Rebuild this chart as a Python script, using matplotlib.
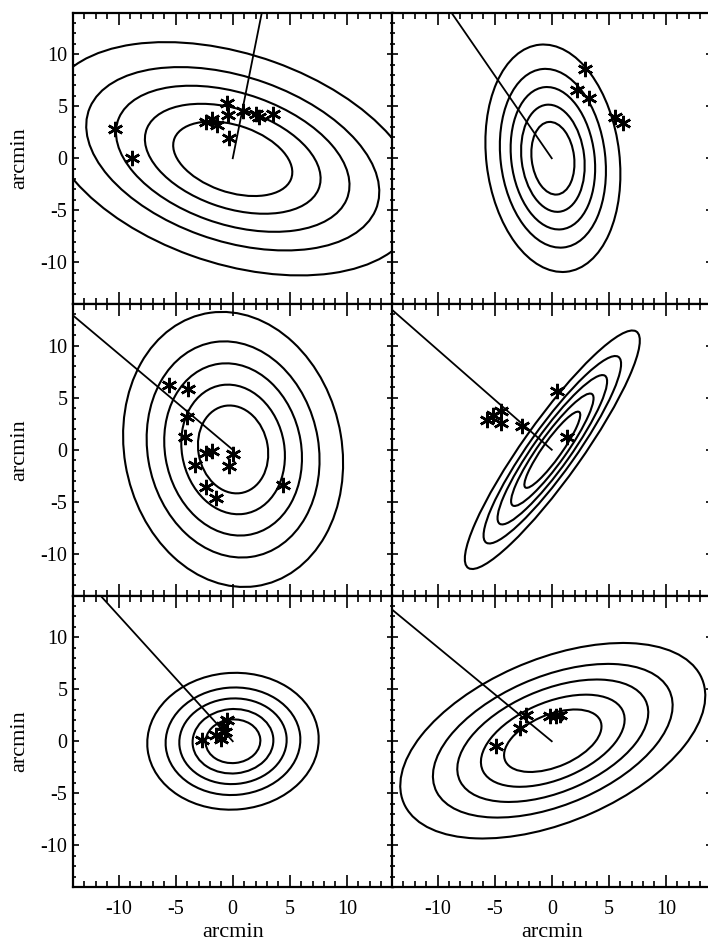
import matplotlib
matplotlib.use('Agg')
import matplotlib.pyplot as plt
from matplotlib.patches import Ellipse
from matplotlib.ticker import MultipleLocator
import numpy as np

plt.rcParams['font.family'] = ['Liberation Serif', 'DejaVu Serif']
plt.rcParams['axes.unicode_minus'] = False

# ---- data ----
levels = [1.0, 1.475, 1.96, 2.46, 3.13]          # contour scale factors

ell_cx = [0.0, 0.1, 0.03, 0.05, 0.02, 0.09]
ell_cy = [-0.05, 0.0, 0.03, 0.0, 0.0, 0.05]
ell_hx = [5.22, 1.89, 3.08, 2.45, 2.40, 4.27]     # half x-extent of inner contour
ell_hy = [3.58, 3.49, 4.22, 3.66, 2.10, 3.00]     # half y-extent of inner contour
ell_rho = [-0.36, -0.14, -0.10, 0.915, 0.03, 0.46]  # correlation (tilt)

line_x = [2.55, -8.8, -14.0, -13.9, -11.6, -14.0]
line_y = [14.0, 14.0, 12.9, 13.35, 14.0, 12.65]

star_x = [
    [-10.28, -8.85, -2.36, -1.78, -1.40, -0.47, -0.41, -0.35, 0.90, 2.00, 2.30, 3.55],
    [2.92, 2.19, 3.24, 5.51, 6.24],
    [-5.62, -3.90, -4.02, -4.16, -2.33, -1.78, -3.35, 0.03, -0.35, -2.36, -1.48, 4.37],
    [-5.69, -5.16, -4.43, -4.43, -2.62, 0.47, 1.31],
    [-2.71, -1.48, -0.99, -0.70, -0.52, -0.82],
    [-4.87, -2.74, -2.22, -0.12, 0.73, 0.38],
]
star_y = [
    [2.85, 0.06, 3.49, 3.75, 3.20, 5.26, 4.17, 1.99, 4.55, 4.23, 4.00, 4.23],
    [8.53, 6.54, 5.83, 3.94, 3.37],
    [6.25, 5.80, 3.11, 1.22, -0.32, -0.13, -1.51, -0.38, -1.57, -3.62, -4.65, -3.43],
    [2.82, 3.30, 3.72, 2.56, 2.24, 5.61, 1.19],
    [0.16, 0.58, 0.26, 0.87, 2.02, 1.44],
    [-0.48, 1.28, 2.56, 2.47, 2.50, 2.47],
]

xlim = (-14, 14)
ylim = (-14, 14)

# ---- layout ----
W, H = 708, 941
fig = plt.figure(figsize=(W / 100, H / 100), dpi=100)
left_px = [73, 392]
top_px = [12.5, 304, 595.5]
pw, ph = 319.5, 291.5

for i in range(6):
    r, c = divmod(i, 2)
    ax = fig.add_axes([left_px[c] / W, 1 - (top_px[r] + ph) / H, pw / W, ph / H])
    ax.set_xlim(*xlim)
    ax.set_ylim(*ylim)

    # ellipses from covariance-like parameters
    hx, hy, rho = ell_hx[i], ell_hy[i], ell_rho[i]
    S = np.array([[hx * hx, rho * hx * hy], [rho * hx * hy, hy * hy]])
    vals, vecs = np.linalg.eigh(S)
    ang = np.degrees(np.arctan2(vecs[1, 1], vecs[0, 1]))
    for s in levels:
        e = Ellipse((ell_cx[i], ell_cy[i]), 2 * s * np.sqrt(vals[1]), 2 * s * np.sqrt(vals[0]),
                    angle=ang, fill=False, edgecolor='black', lw=1.5)
        ax.add_patch(e)

    ax.plot([0, line_x[i]], [0, line_y[i]], color='black', lw=1.3)
    ax.plot(star_x[i], star_y[i], linestyle='none', marker=(6, 2, 0), color='black',
            markersize=11, markeredgewidth=1.8)

    ax.xaxis.set_major_locator(MultipleLocator(5))
    ax.xaxis.set_minor_locator(MultipleLocator(1))
    ax.yaxis.set_major_locator(MultipleLocator(5))
    ax.yaxis.set_minor_locator(MultipleLocator(1))
    ax.tick_params(which='both', direction='in', top=True, right=True, width=1.2,
                   labelsize=14.5, colors='black')
    ax.tick_params(axis='x', which='major', length=8.6, pad=9)
    ax.tick_params(axis='x', which='minor', length=4.3)
    ax.tick_params(axis='y', which='major', length=4.5, pad=4)
    ax.tick_params(axis='y', which='minor', length=2.3)
    for sp in ax.spines.values():
        sp.set_linewidth(1.6)

    if c == 0:
        ax.set_ylabel('arcmin', fontsize=16, labelpad=8)
    else:
        ax.tick_params(labelleft=False)
    if r == 2:
        ax.set_xlabel('arcmin', fontsize=16, labelpad=3)
    else:
        ax.tick_params(labelbottom=False)

fig.savefig('out.png', dpi=100)
